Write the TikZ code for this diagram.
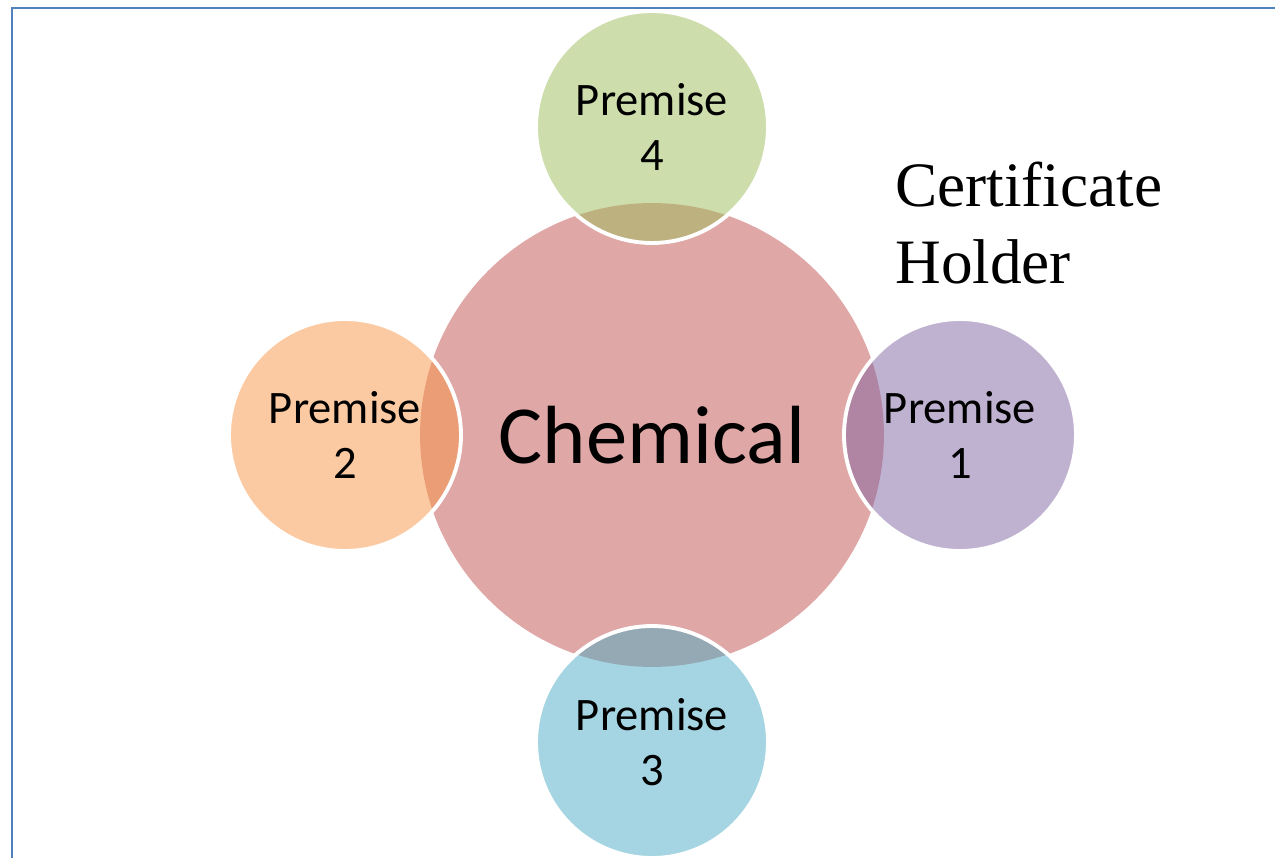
\documentclass[tikz,border=0pt]{standalone}
\usepackage{fontspec}
\setmainfont{Liberation Serif}
\setsansfont{Carlito}

\definecolor{frameblue}{HTML}{4F81BD}
\definecolor{chemred}{HTML}{C0504D}
\definecolor{premgreen}{HTML}{9BBB59}
\definecolor{premorange}{HTML}{F79646}
\definecolor{prempurple}{HTML}{8064A2}
\definecolor{premaqua}{HTML}{4BACC6}

\begin{document}
\begin{tikzpicture}[x=0.02cm, y=-0.02cm,
    premise/.style={circle, draw=white, line width=2.2pt, fill opacity=0.5, text opacity=1,
      minimum size=4.64cm, align=center, font=\sffamily\fontsize{26.5}{31}\selectfont}]
    \useasboundingbox (0,0) rectangle (1275,858);
    % frame
    \draw[frameblue, line width=1.2pt] (12,858) -- (12,8) -- (1275,8);
    % centre
    \node[circle, fill=chemred, fill opacity=0.5, text opacity=1, minimum size=9.28cm,
      font=\sffamily\fontsize{47}{56}\selectfont] (chem) at (652,435) {Chemical};
    % premises
    \node[premise, fill=prempurple] (p1) at (960,435) {Premise\\1};
    \node[premise, fill=premorange] (p2) at (345,435) {Premise\\2};
    \node[premise, fill=premaqua] (p3) at (652,742) {Premise\\3};
    \node[premise, fill=premgreen] (p4) at (652,127) {Premise\\4};
    \node[anchor=north west, align=left, inner sep=0pt, font=\fontsize{36}{43.7}\selectfont]
      (holder) at (895,162) {Certificate\\Holder};
\end{tikzpicture}
\end{document}
